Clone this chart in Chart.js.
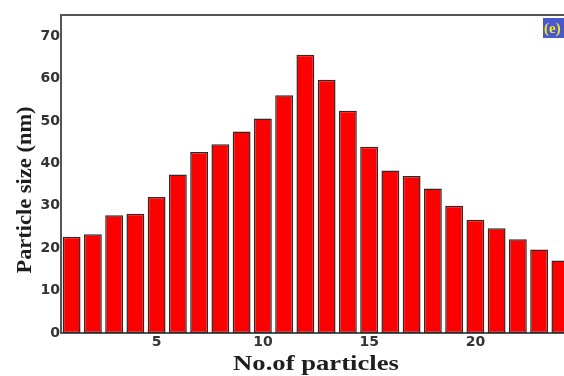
<!DOCTYPE html>
<html>
<head>
<meta charset="utf-8">
<style>
  html, body { margin: 0; padding: 0; overflow: hidden; background: #fff; }
  #wrap { width: 571px; height: 376px; }
</style>
<script src="https://cdn.jsdelivr.net/npm/chart.js@4"></script>
</head>
<body>
<div id="wrap"><canvas id="c" width="571" height="376"></canvas></div>
<script>
// particle index and measured size (nm)
const categories = ['1','2','3','4','5','6','7','8','9','10','11','12',
                    '13','14','15','16','17','18','19','20','21','22','23','24'];
const particleSize = [22.7, 23.3, 27.8, 28.1, 32.1, 37.4, 42.7, 44.5, 47.5, 50.6, 56.1, 65.6,
                      59.7, 52.4, 43.9, 38.3, 37.0, 34.1, 30.0, 26.7, 24.7, 22.1, 19.7, 17.1];
const xTickLabels = ['5', '10', '15', '20'];
const yTicks = [0, 10, 20, 30, 40, 50, 60, 70];
const xTitle = 'No.of particles';
const yTitle = 'Particle size (nm)';
const panelTag = '(e)';

const frameColor = '#555';
const titleFont = 'bold 21px "Liberation Serif", "Times New Roman", serif';

// draws a title in a bold serif face, stretched along its reading direction
function drawWideText(ctx, text, cx, cy, angle, stretch) {
  ctx.save();
  ctx.translate(cx, cy);
  ctx.rotate(angle);
  ctx.scale(stretch, 1);
  ctx.font = titleFont;
  ctx.fillStyle = '#1e1e1e';
  ctx.textAlign = 'center';
  ctx.textBaseline = 'middle';
  ctx.fillText(text, 0, 0);
  ctx.restore();
}

// top frame line, axis titles and panel tag
const framePlugin = {
  id: 'frame',
  afterDraw(chart) {
    const { ctx, chartArea: a } = chart;
    ctx.save();
    ctx.strokeStyle = frameColor;
    ctx.lineWidth = 2;
    ctx.beginPath();
    ctx.moveTo(a.left, a.top);
    ctx.lineTo(chart.width, a.top);
    ctx.stroke();

    drawWideText(ctx, xTitle, (a.left + a.right) / 2, 365, 0, 1.27);
    drawWideText(ctx, yTitle, 26, 190, -Math.PI / 2, 1.07);

    ctx.fillStyle = '#4858d0';
    ctx.fillRect(543, 18, 30, 20);
    ctx.fillStyle = '#f2e21a';
    ctx.font = 'bold 15px "Liberation Serif", serif';
    ctx.textBaseline = 'middle';
    ctx.fillText(panelTag, 544, 29);
    ctx.restore();
  }
};

new Chart(document.getElementById('c'), {
  type: 'bar',
  data: {
    labels: categories,
    datasets: [{
      data: particleSize,
      backgroundColor: '#ff0000',
      borderColor: '#332626',
      borderWidth: 1.5,
      borderSkipped: false,
      categoryPercentage: 1.0,
      barPercentage: 0.84
    }]
  },
  options: {
    responsive: false,
    animation: false,
    devicePixelRatio: 1,
    layout: { padding: { top: 15, right: 0, left: 0, bottom: 0 } },
    plugins: { legend: { display: false }, tooltip: { enabled: false } },
    scales: {
      x: {
        grid: { display: false, drawTicks: false },
        border: { display: true, color: frameColor, width: 2 },
        ticks: {
          autoSkip: false,
          maxRotation: 0,
          padding: 1,
          color: '#333',
          font: { family: '"DejaVu Sans", sans-serif', size: 14, weight: 'bold' },
          callback(v, i) {
            const lab = categories[i];
            return xTickLabels.includes(lab) ? lab : '';
          }
        },
        afterFit(s) { s.height = 43; }
      },
      y: {
        min: 0,
        max: 75,
        grid: { display: false, drawTicks: false },
        border: { display: true, color: frameColor, width: 2 },
        afterBuildTicks(s) { s.ticks = yTicks.map(v => ({ value: v })); },
        ticks: {
          padding: 1,
          color: '#333',
          font: { family: '"DejaVu Sans", sans-serif', size: 14, weight: 'bold' }
        },
        afterFit(s) { s.width = 61; }
      }
    }
  },
  plugins: [framePlugin]
});
</script>
</body>
</html>
